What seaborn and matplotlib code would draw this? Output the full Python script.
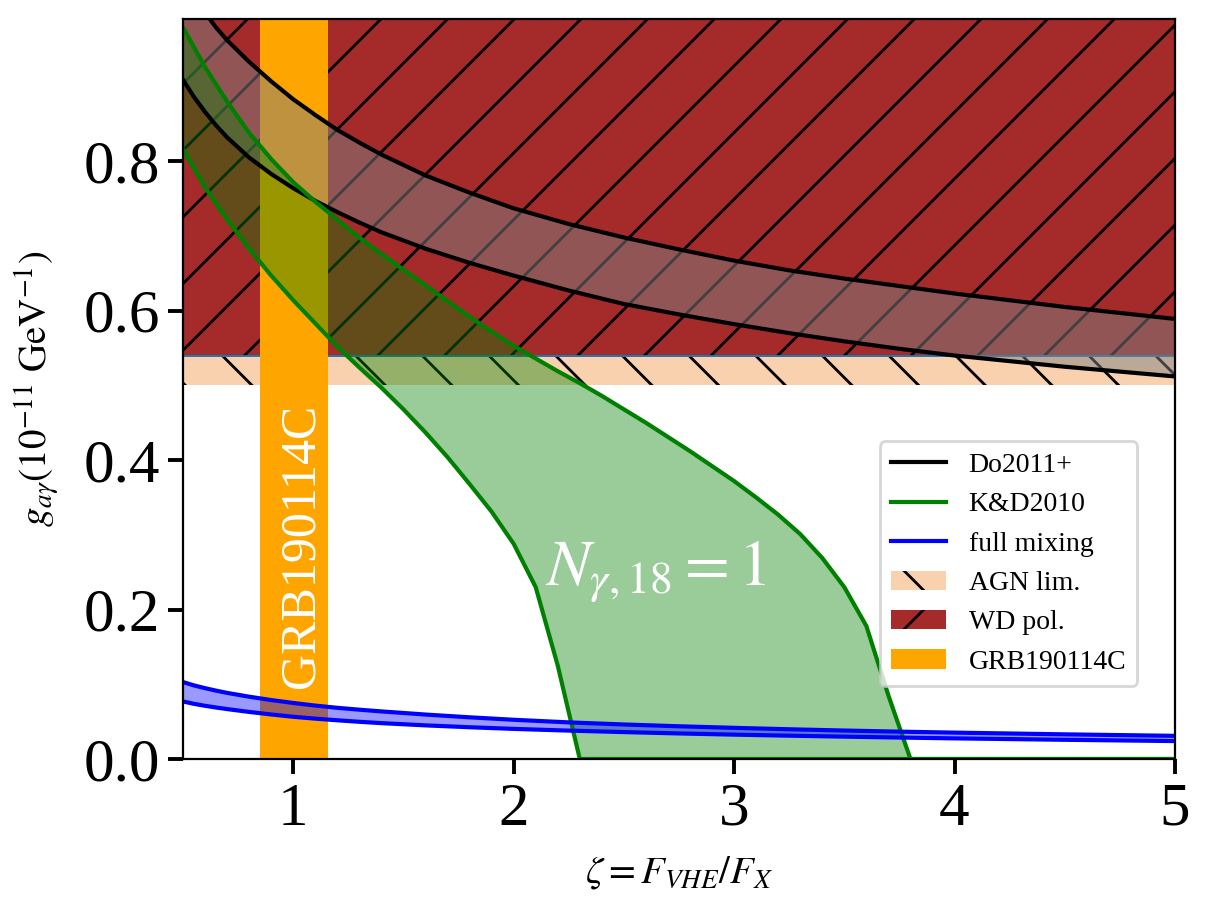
import numpy as np
import matplotlib
matplotlib.use("Agg")
import matplotlib.pyplot as plt
import matplotlib.colors as mcolors
from matplotlib.patches import Patch
from matplotlib.lines import Line2D
import seaborn as sns

# ---------------- data ----------------
zeta_do = [0.5, 0.55, 0.6, 0.65, 0.7, 0.8, 0.9, 1.0, 1.1, 1.2, 1.3, 1.4, 1.6, 1.8, 2.0,
           2.25, 2.5, 2.75, 3.0, 3.25, 3.5, 3.75, 4.0, 4.5, 5.0]
do_hi = [1.045, 1.021, 0.999, 0.979, 0.962, 0.933, 0.907, 0.883, 0.862, 0.842, 0.825, 0.809, 0.781, 0.758, 0.737,
         0.716, 0.698, 0.682, 0.667, 0.654, 0.643, 0.633, 0.623, 0.605, 0.589]
do_lo = [0.909, 0.886, 0.866, 0.848, 0.832, 0.805, 0.783, 0.764, 0.747, 0.732, 0.718, 0.705, 0.683, 0.664, 0.647,
         0.627, 0.609, 0.595, 0.582, 0.570, 0.559, 0.549, 0.540, 0.525, 0.512]
fm_hi = [0.1030, 0.0985, 0.0948, 0.0915, 0.0885, 0.0834, 0.0789, 0.0750, 0.0715, 0.0685, 0.0660, 0.0637, 0.0595,
         0.0558, 0.0525, 0.0490, 0.0462, 0.0438, 0.0417, 0.0398, 0.0381, 0.0366, 0.0353, 0.0330, 0.0310]
fm_lo = [0.0770, 0.0738, 0.0712, 0.0689, 0.0668, 0.0630, 0.0596, 0.0565, 0.0540, 0.0518, 0.0498, 0.0480, 0.0450,
         0.0425, 0.0403, 0.0380, 0.0360, 0.0342, 0.0326, 0.0312, 0.0299, 0.0287, 0.0276, 0.0257, 0.0240]

zeta_kd = [0.5, 0.6, 0.7, 0.8, 0.9, 1.0, 1.1, 1.2, 1.3, 1.4, 1.5, 1.6, 1.7, 1.8, 1.9, 2.0,
           2.1, 2.2, 2.3, 2.4, 2.6, 2.8, 3.0, 3.1, 3.2, 3.3, 3.4, 3.5, 3.6, 3.7, 3.8, 4.0, 4.5, 5.0]
kd_hi = [0.979, 0.926, 0.880, 0.838, 0.803, 0.772, 0.746, 0.722, 0.698, 0.676, 0.655, 0.634, 0.613, 0.592, 0.572, 0.553,
         0.536, 0.519, 0.503, 0.486, 0.450, 0.412, 0.372, 0.350, 0.327, 0.301, 0.269, 0.230, 0.178, 0.085, 0.0, 0.0, 0.0, 0.0]
kd_lo = [0.816, 0.765, 0.722, 0.683, 0.647, 0.614, 0.583, 0.552, 0.524, 0.497, 0.468, 0.437, 0.404, 0.368, 0.331, 0.288,
         0.230, 0.125, 0.0, 0.0, 0.0, 0.0, 0.0, 0.0, 0.0, 0.0, 0.0, 0.0, 0.0, 0.0, 0.0, 0.0, 0.0, 0.0]

agn_lim = [0.50, 0.54]      # AGN limit band
wd_lim = 0.54               # WD polarisation limit (upwards)
grb_zeta = [0.85, 1.16]     # GRB190114C zeta range

legend_labels = ["Do2011+", "K&D2010", "full mixing", "AGN lim.", "WD pol.", "GRB190114C"]

# ---------------- style ----------------
plt.rcParams["font.family"] = ["Liberation Serif", "DejaVu Serif"]
plt.rcParams["mathtext.fontset"] = "stix"
plt.rcParams["hatch.linewidth"] = 1.0
plt.rcParams["axes.linewidth"] = 0.8

fig = plt.figure(figsize=(6.05, 4.555), dpi=200)
ax = fig.add_axes([0.15124, 0.16685, 0.97107 - 0.15124, 0.97881 - 0.16685])

# WD polarisation (opaque brown with / hatch)
ax.axhspan(wd_lim, 2.0, facecolor="brown", edgecolor="black", hatch="/", linewidth=0, zorder=0.5)
# AGN limit band
ax.axhspan(agn_lim[0], agn_lim[1], facecolor=mcolors.to_rgba("sandybrown", 0.5),
           edgecolor="black", hatch="\\", linewidth=0, zorder=0.6)
ax.axhline(wd_lim, color="C0", lw=0.7, zorder=0.7)
# GRB band
ax.axvspan(grb_zeta[0], grb_zeta[1], color="orange", lw=0, zorder=0.8)

# bands
ax.fill_between(zeta_do, do_lo, do_hi, color="gray", alpha=0.5, lw=0, zorder=1)
ax.fill_between(zeta_kd, kd_lo, kd_hi, color="green", alpha=0.4, lw=0, zorder=1.1)
ax.fill_between(zeta_do, fm_lo, fm_hi, color="blue", alpha=0.4, lw=0, zorder=1.2)

# lines
for yy in (do_hi, do_lo):
    sns.lineplot(x=zeta_do, y=yy, color="black", lw=1.5, ax=ax, zorder=2, legend=False)
for yy in (kd_hi, kd_lo):
    sns.lineplot(x=zeta_kd, y=yy, color="green", lw=1.5, ax=ax, zorder=2, legend=False)
for yy in (fm_hi, fm_lo):
    sns.lineplot(x=zeta_do, y=yy, color="blue", lw=1.5, ax=ax, zorder=2, legend=False)

# texts
ax.text(2.646, 0.25, r"$N_{\gamma,18} = 1$", color="white", fontsize=23.5,
        ha="center", va="center", zorder=3)
ax.text(1.035, 0.285, "GRB190114C", color="white", fontsize=18, rotation=90,
        ha="center", va="center", zorder=3)

ax.set_xlim(0.5, 5.0)
ax.set_ylim(0.0, 0.99)
ax.set_xticks([1, 2, 3, 4, 5])
ax.set_yticks([0.0, 0.2, 0.4, 0.6, 0.8])
ax.set_yticklabels(["0.0", "0.2", "0.4", "0.6", "0.8"])
ax.tick_params(axis="both", labelsize=22, length=5.4, width=1.4, pad=3.0, color="black")
for s in ax.spines.values():
    s.set_color("black")
    s.set_zorder(5)

ax.set_xlabel(r"$\zeta = F_{VHE}/F_X$", fontsize=14, labelpad=6)
ax.set_ylabel(r"$g_{a\gamma}(10^{-11}\ \mathrm{GeV}^{-1})$", fontsize=14, labelpad=8)

handles = [
    Line2D([], [], color="black", lw=1.5),
    Line2D([], [], color="green", lw=1.5),
    Line2D([], [], color="blue", lw=1.5),
    Patch(facecolor=mcolors.to_rgba("sandybrown", 0.5), edgecolor="black", hatch="\\", linewidth=0),
    Patch(facecolor="brown", edgecolor="black", hatch="/", linewidth=0),
    Patch(facecolor="orange", edgecolor="none", linewidth=0),
]
leg = ax.legend(handles, legend_labels, loc="lower right", bbox_to_anchor=(0.962, 0.099),
                borderaxespad=0, fontsize=10, frameon=True)
leg.set_zorder(6)

fig.savefig("out.png", dpi=200)
